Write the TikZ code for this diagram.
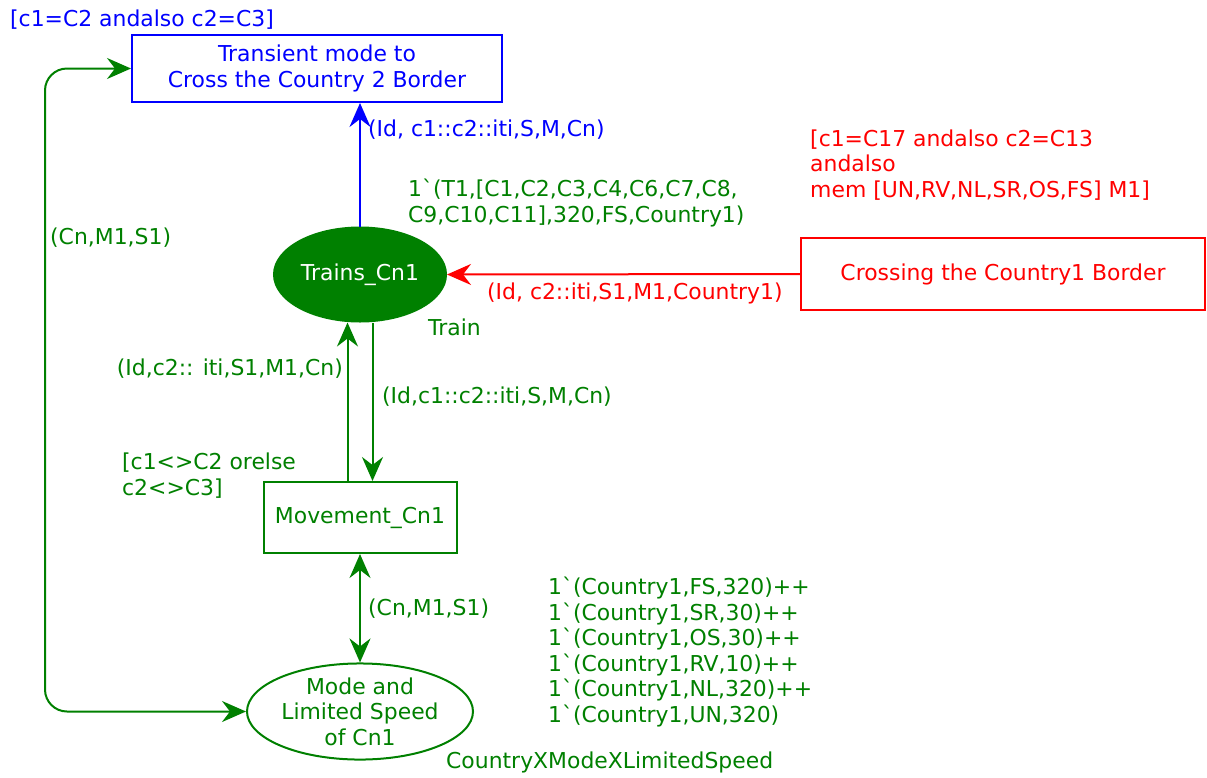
\documentclass[tikz,border=0pt]{standalone}
\usepackage{fontspec}
\setmainfont{DejaVu Sans}
\usetikzlibrary{arrows.meta,shapes.geometric,calc}
\definecolor{cpnblue}{RGB}{0,0,255}
\definecolor{cpnred}{RGB}{255,0,0}
\definecolor{cpngreen}{RGB}{0,128,0}
\newcommand{\bq}{\textasciigrave}

\begin{document}
\begin{tikzpicture}[x=1pt,y=-1pt,
    font=\fontsize{21.9}{25.5}\selectfont,
    >={Stealth[length=24pt,width=21pt,inset=8pt]},
    trans/.style={draw,rectangle,line width=2pt,inner sep=0pt,align=center},
    place/.style={draw,ellipse,line width=2pt,inner sep=0pt,align=center},
    arc/.style={line width=2pt,->},
    lbl/.style={anchor=base west,align=left,inner sep=0pt}]
  \useasboundingbox (0,0) rectangle (1207,777);
  % transitions and places
  \node[trans,cpnblue,minimum width=370pt,minimum height=67pt] (cross2) at (317,68.5)
    {Transient mode to\\Cross the Country 2 Border};
  \node[place,cpngreen,fill=cpngreen,text=white,minimum width=172pt,minimum height=94pt] (trains) at (360,274.5)
    {Trains\_Cn1};
  \node[trans,cpnred,minimum width=404pt,minimum height=72pt] (cross1) at (1003,274)
    {Crossing the Country1 Border};
  \node[trans,cpngreen,minimum width=193pt,minimum height=71pt] (mov) at (360,517.5)
    {Movement\_Cn1};
  \node[place,cpngreen,minimum width=226pt,minimum height=87pt] (mode) at (360,711.5)
    {Mode and\\Limited Speed\\of Cn1};
  \coordinate (loopx) at (45,0);

  % guards, markings and colour sets (base = last line)
  \node[lbl,cpnblue] (gcross2) at (10,26) {[c1=C2 andalso c2=C3]};
  \node[lbl,cpnred] (gcross1) at (810,197)
    {[c1=C17 andalso c2=C13\\andalso\\mem [UN,RV,NL,SR,OS,FS] M1]};
  \node[lbl,cpngreen] (gmov) at (122,495) {[c1<>C2 orelse\\c2<>C3]};
  \node[lbl,cpngreen] (mtrains) at (408,222)
    {1\bq(T1,[C1,C2,C3,C4,C6,C7,C8,\\C9,C10,C11],320,FS,Country1)};
  \node[lbl,cpngreen] (ctrains) at (428,335) {Train};
  \node[lbl,cpngreen] (mmode) at (548,722)
    {1\bq(Country1,FS,320)++\\1\bq(Country1,SR,30)++\\1\bq(Country1,OS,30)++\\1\bq(Country1,RV,10)++\\1\bq(Country1,NL,320)++\\1\bq(Country1,UN,320)};
  \node[lbl,cpngreen] (cmode) at (446,768) {CountryXModeXLimitedSpeed};

  % arcs
  \draw[arc,cpnblue] (trains.north) -- (trains.north |- cross2.south);
  \draw[arc,cpnred] (cross1.west) -- (trains.east);
  \draw[arc,cpngreen] ($(mov.north)+(-12.5,0)$) -- ($(trains.south)+(-12.5,0)$);
  \draw[arc,cpngreen] ($(trains.south)+(12.5,0)$) -- ($(mov.north)+(12.5,0)$);
  \draw[arc,cpngreen,<->] (mov.south) -- (mode.north);
  \draw[arc,cpngreen,<->,rounded corners=22pt] (mode.west) -| (loopx |- cross2.west) -- (cross2.west);

  % arc inscriptions
  \node[lbl,cpnblue] (across2) at (368,136) {(Id, c1::c2::iti,S,M,Cn)};
  \node[lbl,cpnred] (across1) at (487,299) {(Id, c2::iti,S1,M1,Country1)};
  \node[lbl,cpngreen,anchor=base east] (aup) at (343,375) {(Id,c2:: iti,S1,M1,Cn)};
  \node[lbl,cpngreen] (adown) at (382,403) {(Id,c1::c2::iti,S,M,Cn)};
  \node[lbl,cpngreen] (amode) at (368,615) {(Cn,M1,S1)};
  \node[lbl,cpngreen] (aloop) at (50,244) {(Cn,M1,S1)};
\end{tikzpicture}
\end{document}
